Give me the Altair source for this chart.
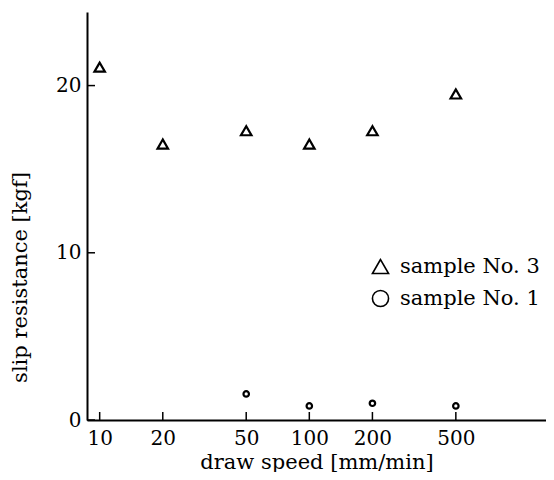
import altair as alt
import pandas as pd

# ---- data ----
series_names = ["sample No. 3", "sample No. 1"]
speed_no3 = [10, 20, 50, 100, 200, 500]
res_no3 = [21.1, 16.5, 17.3, 16.5, 17.3, 19.5]
speed_no1 = [50, 100, 200, 500]
res_no1 = [1.56, 0.84, 1.0, 0.84]
x_ticks = [10, 20, 50, 100, 200, 500]
y_ticks = [0, 10, 20]

df3 = pd.DataFrame({"speed": speed_no3, "res": res_no3, "series": series_names[0]})
df1 = pd.DataFrame({"speed": speed_no1, "res": res_no1, "series": series_names[1]})
xt = pd.DataFrame({"t": x_ticks})
yt = pd.DataFrame({"t": y_ticks})

FONT = "DejaVu Serif"
W, H = 459, 408
xscale = alt.Scale(type="log", domain=[8.7, 1346], nice=False)
yscale = alt.Scale(domain=[0, 24.4], nice=False, zero=False)

x_axis = alt.Axis(values=x_ticks, title="draw speed [mm/min]", ticks=False, grid=False,
                  labelPadding=8, labelFont=FONT, labelFontSize=20, labelColor="black",
                  titleFont=FONT, titleFontSize=21, titleFontWeight="normal", titleColor="black",
                  titlePadding=3, domainColor="black", domainWidth=2, labelFlush=False,
                  format="d")
y_axis = alt.Axis(values=y_ticks, title="slip resistance [kgf]", ticks=False, grid=False,
                  labelPadding=6, labelFont=FONT, labelFontSize=20, labelColor="black",
                  titleFont=FONT, titleFontSize=21, titleFontWeight="normal", titleColor="black",
                  titleX=-67, titleY=265, titleAngle=270, titleAlign="center", titleBaseline="middle",
                  domainColor="black", domainWidth=2, labelFlush=False)

shape_enc = alt.Shape(
    "series:N",
    scale=alt.Scale(domain=series_names, range=["triangle-up", "circle"]),
    legend=alt.Legend(title=None, orient="none", legendX=283, legendY=244,
                      labelFont=FONT, labelFontSize=21, labelColor="black",
                      symbolSize=260, symbolStrokeWidth=1.6, symbolStrokeColor="black",
                      symbolFillColor="white", rowPadding=10, labelOffset=9),
)

tri = alt.Chart(df3).mark_point(filled=False, strokeWidth=2.2, color="black", opacity=1, size=110).encode(
    x=alt.X("speed:Q", scale=xscale, axis=x_axis),
    y=alt.Y("res:Q", scale=yscale, axis=y_axis),
    shape=shape_enc,
)
circ = alt.Chart(df1).mark_point(filled=False, strokeWidth=2.2, color="black", opacity=1, size=30).encode(
    x=alt.X("speed:Q", scale=xscale),
    y=alt.Y("res:Q", scale=yscale),
    shape=shape_enc,
)

xticks = alt.Chart(xt).mark_rule(color="black", strokeWidth=1.5).encode(
    x=alt.X("t:Q", scale=xscale), y=alt.value(H), y2=alt.value(H - 8))
yticks = alt.Chart(yt).mark_rule(color="black", strokeWidth=1.5).encode(
    y=alt.Y("t:Q", scale=yscale), x=alt.value(0), x2=alt.value(8))

chart = alt.layer(xticks, yticks, tri, circ).properties(
    width=W, height=H,
    autosize=alt.AutoSizeParams(type="none"),
    padding={"left": 79, "top": 4, "right": 0, "bottom": 52},
    background="white",
).configure_view(stroke=None)

chart.save("out.html", embed_options={"renderer": "svg", "actions": False})
